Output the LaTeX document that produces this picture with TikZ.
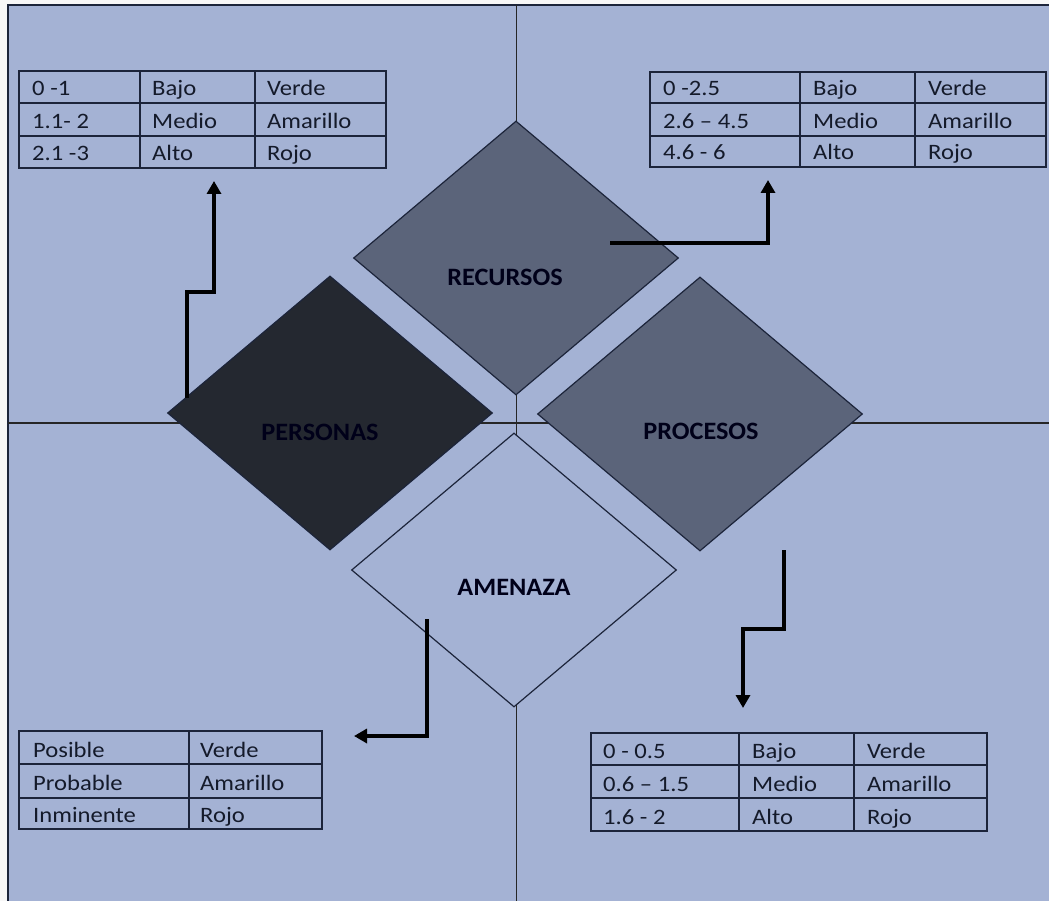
\documentclass[tikz,border=0pt]{standalone}
\usepackage{fontspec}
\setmainfont{Carlito}
\usetikzlibrary{shapes.geometric,arrows.meta}
\definecolor{bgblue}{RGB}{164,178,212}
\definecolor{midgray}{RGB}{91,100,122}
\definecolor{darkgray}{RGB}{36,40,48}
\definecolor{lineblue}{RGB}{28,36,58}
\definecolor{txt}{RGB}{20,26,42}
\newcommand\widetxt[1]{\scalebox{1.12}[1]{#1}}
\newcommand\widelab[1]{\scalebox{1.05}[1]{#1}}
\tikzset{
  dia/.style={diamond, draw=lineblue, line width=1.2pt, inner sep=0pt, minimum width=325pt, minimum height=274pt},
  lab/.style={font=\fontsize{25}{25}\selectfont\bfseries, text=black!90!blue, inner sep=0pt},
  cell/.style={anchor=base west, font=\fontsize{22}{22}\selectfont, text=txt, inner sep=0pt},
  tab/.style={draw=lineblue, line width=1.4pt},
  arr/.style={line width=4pt, -{Triangle[width=14pt,length=13pt]}, black},
  quad/.style={draw=black!85, line width=1.2pt}
}
\begin{document}
\begin{tikzpicture}[x=1pt,y=-1pt]
\useasboundingbox (0,0) rectangle (1049,901);
\fill[white!94!gray] (0,0) rectangle (1049,901);
\fill[bgblue] (8,5) rectangle (1055,905);
\draw[lineblue, line width=1.6pt] (8,905) -- (8,5) -- (1055,5);
% quadrant lines
\coordinate (vtop) at (516.5,5);
\coordinate (vbot) at (516.5,905);
\coordinate (hl) at (8,423);
\coordinate (hr) at (1055,423);
\draw[quad] (vtop) -- (vbot);
\draw[quad] (hl) -- (hr);
% diamonds
\node[dia, fill=midgray] (rec) at (516,258) {};
\node[dia, fill=darkgray] (per) at (330,413) {};
\node[dia, fill=midgray] (pro) at (700,414) {};
\node[dia, fill=bgblue] (ame) at (514,570) {};
\node[lab] (reclab) at (505,277) {\widelab{RECURSOS}};
\node[lab] (perlab) at (320,432) {\widelab{PERSONAS}};
\node[lab] (prolab) at (701,431) {\widelab{PROCESOS}};
\node[lab] (amelab) at (514,587) {\widelab{AMENAZA}};
% table top-left
\draw[tab] (19,71) rectangle (386,168);
\draw[tab] (19,103) -- (386,103) (19,136) -- (386,136) (140,71) -- (140,168) (255,71) -- (255,168);
\node[cell] (tl11) at (32,96) {\widetxt{0 -1}};
\node[cell] (tl12) at (152,96) {\widetxt{Bajo}};
\node[cell] (tl13) at (267,96) {\widetxt{Verde}};
\node[cell] (tl21) at (32,129) {\widetxt{1.1- 2}};
\node[cell] (tl22) at (152,129) {\widetxt{Medio}};
\node[cell] (tl23) at (267,129) {\widetxt{Amarillo}};
\node[cell] (tl31) at (32,161) {\widetxt{2.1 -3}};
\node[cell] (tl32) at (152,161) {\widetxt{Alto}};
\node[cell] (tl33) at (267,161) {\widetxt{Rojo}};
% table top-right
\draw[tab] (650,72) rectangle (1046,167);
\draw[tab] (650,103) -- (1046,103) (650,136) -- (1046,136) (800,72) -- (800,167) (915,72) -- (915,167);
\node[cell] (tr11) at (663,96) {\widetxt{0 -2.5}};
\node[cell] (tr12) at (813,96) {\widetxt{Bajo}};
\node[cell] (tr13) at (928,96) {\widetxt{Verde}};
\node[cell] (tr21) at (663,129) {\widetxt{2.6 – 4.5}};
\node[cell] (tr22) at (813,129) {\widetxt{Medio}};
\node[cell] (tr23) at (928,129) {\widetxt{Amarillo}};
\node[cell] (tr31) at (663,160) {\widetxt{4.6 - 6}};
\node[cell] (tr32) at (813,160) {\widetxt{Alto}};
\node[cell] (tr33) at (928,160) {\widetxt{Rojo}};
% table bottom-left
\draw[tab] (19,731) rectangle (322,829);
\draw[tab] (19,764) -- (322,764) (19,798) -- (322,798) (189,731) -- (189,829);
\node[cell] (bl11) at (33,757) {\widetxt{Posible}};
\node[cell] (bl12) at (200,757) {\widetxt{Verde}};
\node[cell] (bl21) at (33,790) {\widetxt{Probable}};
\node[cell] (bl22) at (200,790) {\widetxt{Amarillo}};
\node[cell] (bl31) at (33,822) {\widetxt{Inminente}};
\node[cell] (bl32) at (200,822) {\widetxt{Rojo}};
% table bottom-right
\draw[tab] (591,733) rectangle (987,831);
\draw[tab] (591,765) -- (987,765) (591,798) -- (987,798) (739,733) -- (739,831) (854,733) -- (854,831);
\node[cell] (br11) at (603,758) {\widetxt{0 - 0.5}};
\node[cell] (br12) at (752,758) {\widetxt{Bajo}};
\node[cell] (br13) at (867,758) {\widetxt{Verde}};
\node[cell] (br21) at (603,791) {\widetxt{0.6 – 1.5}};
\node[cell] (br22) at (752,791) {\widetxt{Medio}};
\node[cell] (br23) at (867,791) {\widetxt{Amarillo}};
\node[cell] (br31) at (603,824) {\widetxt{1.6 - 2}};
\node[cell] (br32) at (752,824) {\widetxt{Alto}};
\node[cell] (br33) at (867,824) {\widetxt{Rojo}};
% arrows
\coordinate (a1s) at (187,398);
\coordinate (a1e) at (214,181);
\draw[arr] (a1s) -- (187,292) -- (214,292) -- (a1e);
\coordinate (a2s) at (610,243);
\coordinate (a2e) at (768,180);
\draw[arr] (a2s) -- (768,243) -- (a2e);
\coordinate (a3s) at (784,550);
\coordinate (a3e) at (743,708);
\draw[arr] (a3s) -- (784,629) -- (743,629) -- (a3e);
\coordinate (a4s) at (427,619);
\coordinate (a4e) at (354,736);
\draw[arr] (a4s) -- (427,736) -- (a4e);
\end{tikzpicture}
\end{document}
